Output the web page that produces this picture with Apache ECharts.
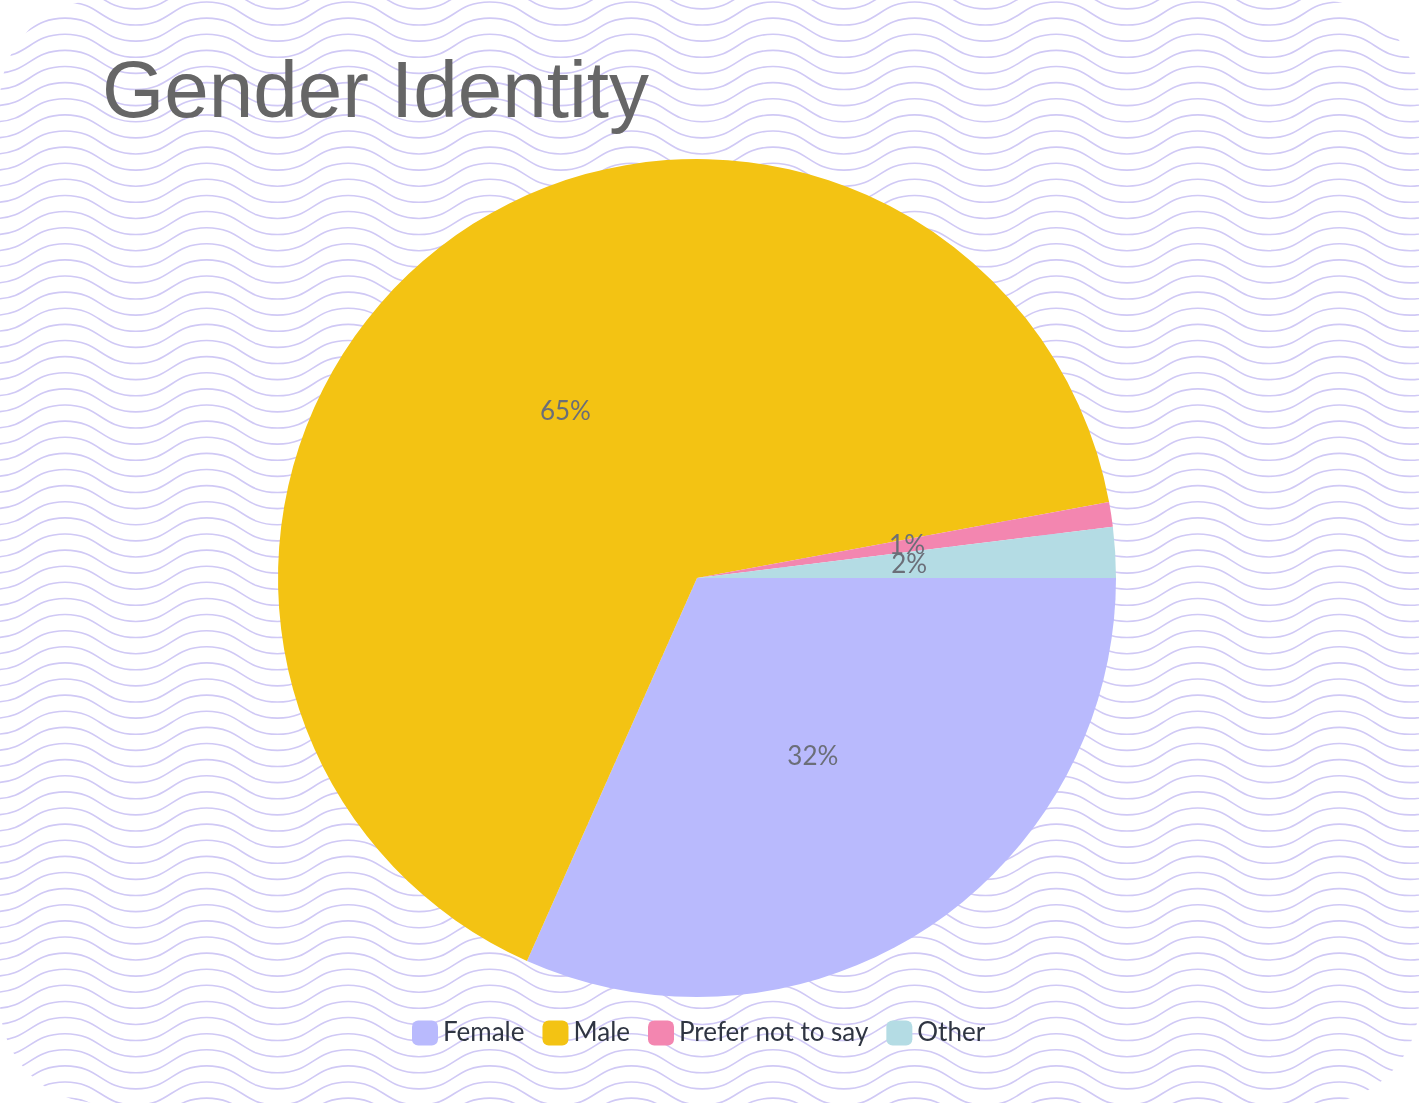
<!DOCTYPE html>
<html>
<head>
<meta charset="utf-8">
<script src="https://cdn.jsdelivr.net/npm/echarts@6/dist/echarts.min.js"></script>
<style>
  html, body { margin: 0; padding: 0; background: #ffffff; }
  #wrap { position: relative; width: 1419px; height: 1103px; border-radius: 100px; overflow: hidden; background: #ffffff; }
  #bg { position: absolute; left: 0; top: 0; }
  #chart { position: absolute; left: 0; top: 0; width: 1419px; height: 1103px; }
</style>
</head>
<body>
<div id="wrap">
  <svg id="bg" width="1419" height="1103" xmlns="http://www.w3.org/2000/svg"></svg>
  <div id="chart"></div>
</div>
<script>
// ---- data ----
const titleText = 'Gender Identity';
const categories = ['Female', 'Male', 'Prefer not to say', 'Other'];
const values = [31.65, 65.45, 0.95, 1.95];
const colors = ['#b9bafd', '#f3c313', '#f386b0', '#b4dce4'];

// ---- decorative wavy background ----
(function () {
  const svg = document.getElementById('bg');
  const W = 1419, H = 1103;
  const P = 141.6, S = 16.12, A = 23, cx0 = 65, cy0 = 2;
  let html = '';
  for (let k = -3; k * S + cy0 < H + 30; k++) {
    const yc = cy0 + k * S, yt = yc + A;
    let x = cx0 - P;
    let d = 'M' + x.toFixed(2) + ' ' + yc.toFixed(2);
    let cur = yc;
    while (x < W + P) {
      const nxt = (cur === yc) ? yt : yc;
      const h = P / 2;
      d += ' C' + (x + h / 2).toFixed(2) + ' ' + cur.toFixed(2) + ' ' + (x + h / 2).toFixed(2) + ' ' + nxt.toFixed(2) + ' ' + (x + h).toFixed(2) + ' ' + nxt.toFixed(2);
      x += h; cur = nxt;
    }
    html += '<path d="' + d + '" fill="none" stroke="#d0c9f5" stroke-width="1.6"/>';
  }
  svg.innerHTML = html;
})();

// ---- chart ----
const chart = echarts.init(document.getElementById('chart'), null, { renderer: 'canvas' });
chart.setOption({
  backgroundColor: 'transparent',
  animation: false,
  color: colors,
  title: {
    text: titleText,
    left: 97,
    top: 50,
    textStyle: { fontSize: 80, fontWeight: 'normal', color: '#666666', fontFamily: '"Liberation Sans", Arial, sans-serif' }
  },
  legend: {
    data: categories,
    left: 407,
    top: 1015,
    icon: 'roundRect',
    itemWidth: 26,
    itemHeight: 25,
    itemGap: 18,
    textStyle: { fontSize: 26, color: '#2f3542', fontFamily: 'Lato, sans-serif' }
  },
  series: [{
    type: 'pie',
    center: [697, 578],
    radius: 419,
    startAngle: 0,
    clockwise: true,
    data: categories.map((c, i) => ({ name: c, value: values[i] })),
    itemStyle: { borderWidth: 0 },
    label: {
      show: true,
      position: 'inside',
      formatter: p => Math.round(p.percent) + '%',
      color: '#6b6e78',
      fontSize: 26,
      fontFamily: 'Lato, sans-serif'
    },
    labelLayout: { hideOverlap: false },
    labelLine: { show: false },
    emphasis: { disabled: true }
  }]
});
</script>
</body>
</html>
